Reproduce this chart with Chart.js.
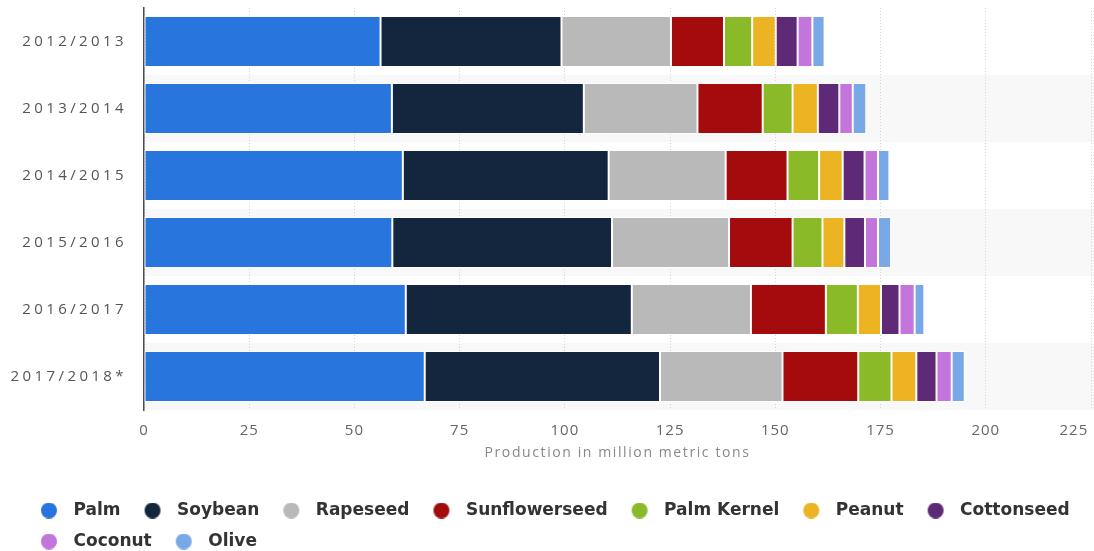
<!DOCTYPE html>
<html>
<head>
<meta charset="utf-8">
<title>Vegetable oil production</title>
<style>
  html, body { margin: 0; padding: 0; background: #fff; }
  #wrap { width: 1094px; height: 551px; position: relative; }
</style>
<script src="https://cdn.jsdelivr.net/npm/chart.js@4.4.0/dist/chart.umd.min.js"></script>
</head>
<body>
<div id="wrap"><canvas id="oilChart"></canvas></div>
<script>
// Marketing years, top to bottom
const seasons = ['2012/2013', '2013/2014', '2014/2015', '2015/2016', '2016/2017', '2017/2018*'];

// Production by oil type, million metric tons
const palm          = [56.2, 58.9, 61.5, 59.0, 62.2, 66.7];
const soybean       = [43.0, 45.6, 48.9, 52.2, 53.7, 55.9];
const rapeseed      = [26.0, 27.0, 27.8, 27.8, 28.3, 29.1];
const sunflowerseed = [12.6, 15.5, 14.7, 15.1, 17.8, 18.0];
const palmKernel    = [6.7, 7.1, 7.5, 7.1, 7.6, 7.9];
const peanut        = [5.6, 6.0, 5.6, 5.2, 5.5, 5.9];
const cottonseed    = [5.2, 5.1, 5.2, 4.9, 4.4, 4.8];
const coconut       = [3.5, 3.2, 3.2, 3.1, 3.6, 3.6];
const olive         = [2.9, 3.2, 2.7, 3.1, 2.3, 3.1];

// x axis ticks
const xMin = 0;
const xMax = 225;
const xStep = 25;

const series = [
  { label: 'Palm', data: palm, color: '#2876dd' },
  { label: 'Soybean', data: soybean, color: '#13263d' },
  { label: 'Rapeseed', data: rapeseed, color: '#b9b9b9' },
  { label: 'Sunflowerseed', data: sunflowerseed, color: '#a30b0c' },
  { label: 'Palm Kernel', data: palmKernel, color: '#8aba27' },
  { label: 'Peanut', data: peanut, color: '#ecb322' },
  { label: 'Cottonseed', data: cottonseed, color: '#5e2a77' },
  { label: 'Coconut', data: coconut, color: '#c475db' },
  { label: 'Olive', data: olive, color: '#78a8e6' }
];

// legend dot with some room on its left so the text sits further away
const legendDot = (color) => {
  const c = document.createElement('canvas');
  c.width = 34;
  c.height = 16;
  const g = c.getContext('2d');
  g.fillStyle = color;
  g.beginPath();
  g.arc(18, 8, 8, 0, Math.PI * 2);
  g.fill();
  return c;
};
const legendDots = series.map(s => legendDot(s.color));

// run a draw method with extra letter spacing
const withSpacing = (obj, method, spacing) => {
  const orig = obj[method];
  obj[method] = function (...args) {
    const ctx = this.ctx;
    ctx.save();
    ctx.letterSpacing = spacing;
    const out = orig.apply(this, args);
    ctx.restore();
    return out;
  };
};

const spacedText = {
  id: 'spacedText',
  beforeDraw(chart) {
    const { x, y } = chart.scales;
    if (!y._spaced) {
      // category labels may run past the padded left edge, so don't clip them
      y._computeLabelArea = () => undefined;
      withSpacing(y, 'drawLabels', '3.4px');
      y._spaced = true;
    }
    if (!x._spaced) {
      withSpacing(x, 'drawTitle', '1.6px');
      withSpacing(x, 'drawLabels', '1px');
      x._spaced = true;
    }
  }
};

// light stripes behind every other row
const rowBands = {
  id: 'rowBands',
  beforeDraw(chart) {
    const { ctx, chartArea, scales: { y } } = chart;
    const slot = y.getPixelForValue(1) - y.getPixelForValue(0);
    ctx.save();
    ctx.fillStyle = '#f8f8f8';
    seasons.forEach((s, i) => {
      if (i % 2 === 0) return;
      const mid = y.getPixelForValue(i);
      ctx.fillRect(chartArea.left, mid - slot / 2, chart.width - chartArea.left, slot);
    });
    ctx.restore();
  }
};

new Chart(document.getElementById('oilChart'), {
  type: 'bar',
  data: {
    labels: seasons,
    datasets: series.map(s => ({
      label: s.label,
      data: s.data,
      backgroundColor: s.color,
      borderColor: 'rgba(255,255,255,0.85)',
      borderWidth: 1,
      borderSkipped: false,
      categoryPercentage: 0.76,
      barPercentage: 1
    }))
  },
  options: {
    indexAxis: 'y',
    responsive: true,
    maintainAspectRatio: false,
    animation: false,
    layout: { padding: { top: 8, left: 17, right: 3, bottom: -9 } },
    scales: {
      x: {
        stacked: true,
        min: xMin,
        max: xMax,
        ticks: {
          stepSize: xStep,
          color: '#666',
          padding: 12,
          font: { family: 'Open Sans', size: 15 },
          // keep the last label inside the canvas
          callback: (v) => v === xMax ? v + '       ' : v
        },
        grid: { color: '#d4d4d4', drawTicks: false },
        border: { display: false, dash: [1, 2] },
        title: {
          display: true,
          text: 'Production in million metric tons',
          color: '#888',
          font: { family: 'Open Sans', size: 14 },
          padding: { top: 2, bottom: 27 }
        },
        afterFit(scale) {
          scale.paddingRight = 0;
          scale.paddingLeft = 0;
          scale.height = 78;
        }
      },
      y: {
        stacked: true,
        ticks: {
          color: '#555',
          padding: 17,
          font: { family: 'Open Sans', size: 15 }
        },
        grid: { display: false, drawTicks: false },
        border: { display: true, color: '#4d4d4d', width: 1.5 },
        afterFit(scale) {
          scale.width = 127;
          scale.paddingTop = 0;
          scale.paddingBottom = 0;
        }
      }
    },
    plugins: {
      legend: {
        position: 'bottom',
        align: 'start',
        labels: {
          usePointStyle: true,
          pointStyleWidth: 34,
          boxHeight: 16,
          padding: 14,
          color: '#333',
          font: { family: 'DejaVu Sans', size: 17, weight: 'bold' },
          generateLabels(chart) {
            return Chart.defaults.plugins.legend.labels.generateLabels(chart)
              .map(item => ({ ...item, pointStyle: legendDots[item.datasetIndex] }));
          }
        }
      },
      tooltip: { enabled: false }
    }
  },
  plugins: [rowBands, spacedText]
});
</script>
</body>
</html>
